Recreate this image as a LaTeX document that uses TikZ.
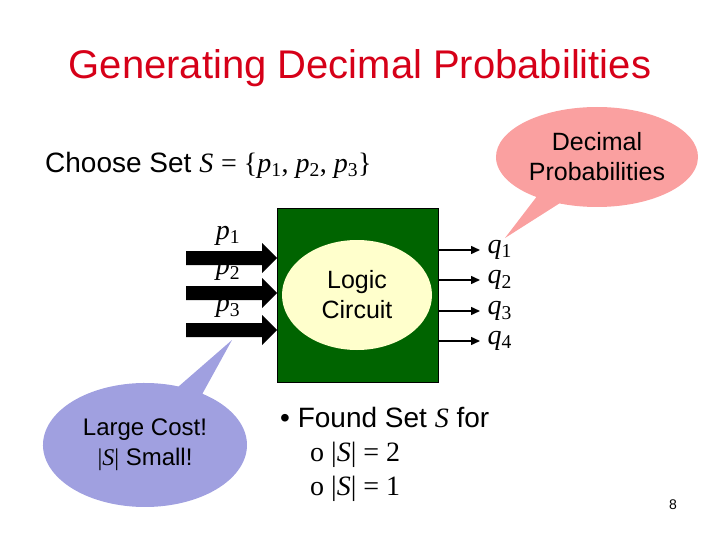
\documentclass[tikz,border=0pt]{standalone}
\usepackage{fontspec}
\setmainfont{Liberation Sans}
\newfontfamily\serif{Liberation Serif}
\usetikzlibrary{shapes.callouts,shapes.geometric,arrows.meta}
\definecolor{titlered}{RGB}{214,0,24}
\definecolor{boxgreen}{RGB}{0,100,0}
\definecolor{ellyellow}{RGB}{255,255,204}
\definecolor{pinkc}{RGB}{250,160,160}
\definecolor{bluec}{RGB}{160,160,224}
\newcommand{\mv}[1]{{\serif\itshape #1}}
\newcommand{\rn}[1]{{\serif #1}}
\begin{document}
\begin{tikzpicture}[x=1pt,y=-1pt,
  outarrow/.style={-{Triangle[length=9pt,width=8pt]},line width=1.5pt},
  lab/.style={font=\fontsize{28}{33}\selectfont,inner sep=0pt}]
\useasboundingbox (0,0) rectangle (720,540);
\node[font=\fontsize{40}{46}\selectfont,text=titlered] (title) at (360,68) {Generating Decimal Probabilities};
\node[lab,anchor=west] (choose) at (45,165) {Choose Set \mv{S} \rn{= \{}\mv{p}\rn{\textsubscript{1}, }\mv{p}\rn{\textsubscript{2}, }\mv{p}\rn{\textsubscript{3}\}}};
\node[ellipse callout,fill=pinkc,minimum width=200pt,minimum height=100pt,callout absolute pointer={(505,238)},font=\fontsize{25}{30}\selectfont,align=center] (dec) at (597,157) {Decimal\\Probabilities};
\node[ellipse callout,fill=bluec,minimum width=204pt,minimum height=124pt,callout absolute pointer={(232,340)},font=\fontsize{24}{30}\selectfont,align=center] (cost) at (145,445) {Large Cost!\\\rn{|}\mv{S}\rn{|} Small!};
\node[draw=black,fill=boxgreen,minimum width=161pt,minimum height=174pt,inner sep=0pt] (box) at (357.5,295) {};
\node[ellipse,fill=ellyellow,minimum width=150pt,minimum height=110pt,font=\fontsize{25}{30}\selectfont,align=center] (logic) at (357,295) {Logic\\Circuit};
\foreach \y/\i in {258/1,293/2,330/3}{
  \node[font=\fontsize{28}{32}\selectfont] (pl\i) at (228,\y-22) {\mv{p}\rn{\textsubscript{\i}}};
  \coordinate (in\i) at (277,\y);
  \fill[black] (186,\y-7) -- (262,\y-7) -- (262,\y-15) -- (in\i) -- (262,\y+15) -- (262,\y+7) -- (186,\y+7) -- cycle;
}
\foreach \y/\i in {250/1,280/2,311/3,341/4}{
  \coordinate (o\i) at (438,\y);
  \coordinate (e\i) at (480,\y);
  \draw[outarrow] (o\i) -- (e\i);
  \node[font=\fontsize{28}{32}\selectfont,anchor=west] (ql\i) at (484,\y) {\mv{q}\rn{\textsubscript{\i}}};
}
\node[lab,anchor=north west,align=left] (found) at (280,407) {• Found Set \mv{S} for\\[1pt]
\hspace*{30pt}\rn{o |}\mv{S}\rn{| = 2}\\[1pt]\hspace*{30pt}\rn{o |}\mv{S}\rn{| = 1}};
\node[font=\fontsize{14}{16}\selectfont] (pg) at (673,505) {8};
\end{tikzpicture}
\end{document}
